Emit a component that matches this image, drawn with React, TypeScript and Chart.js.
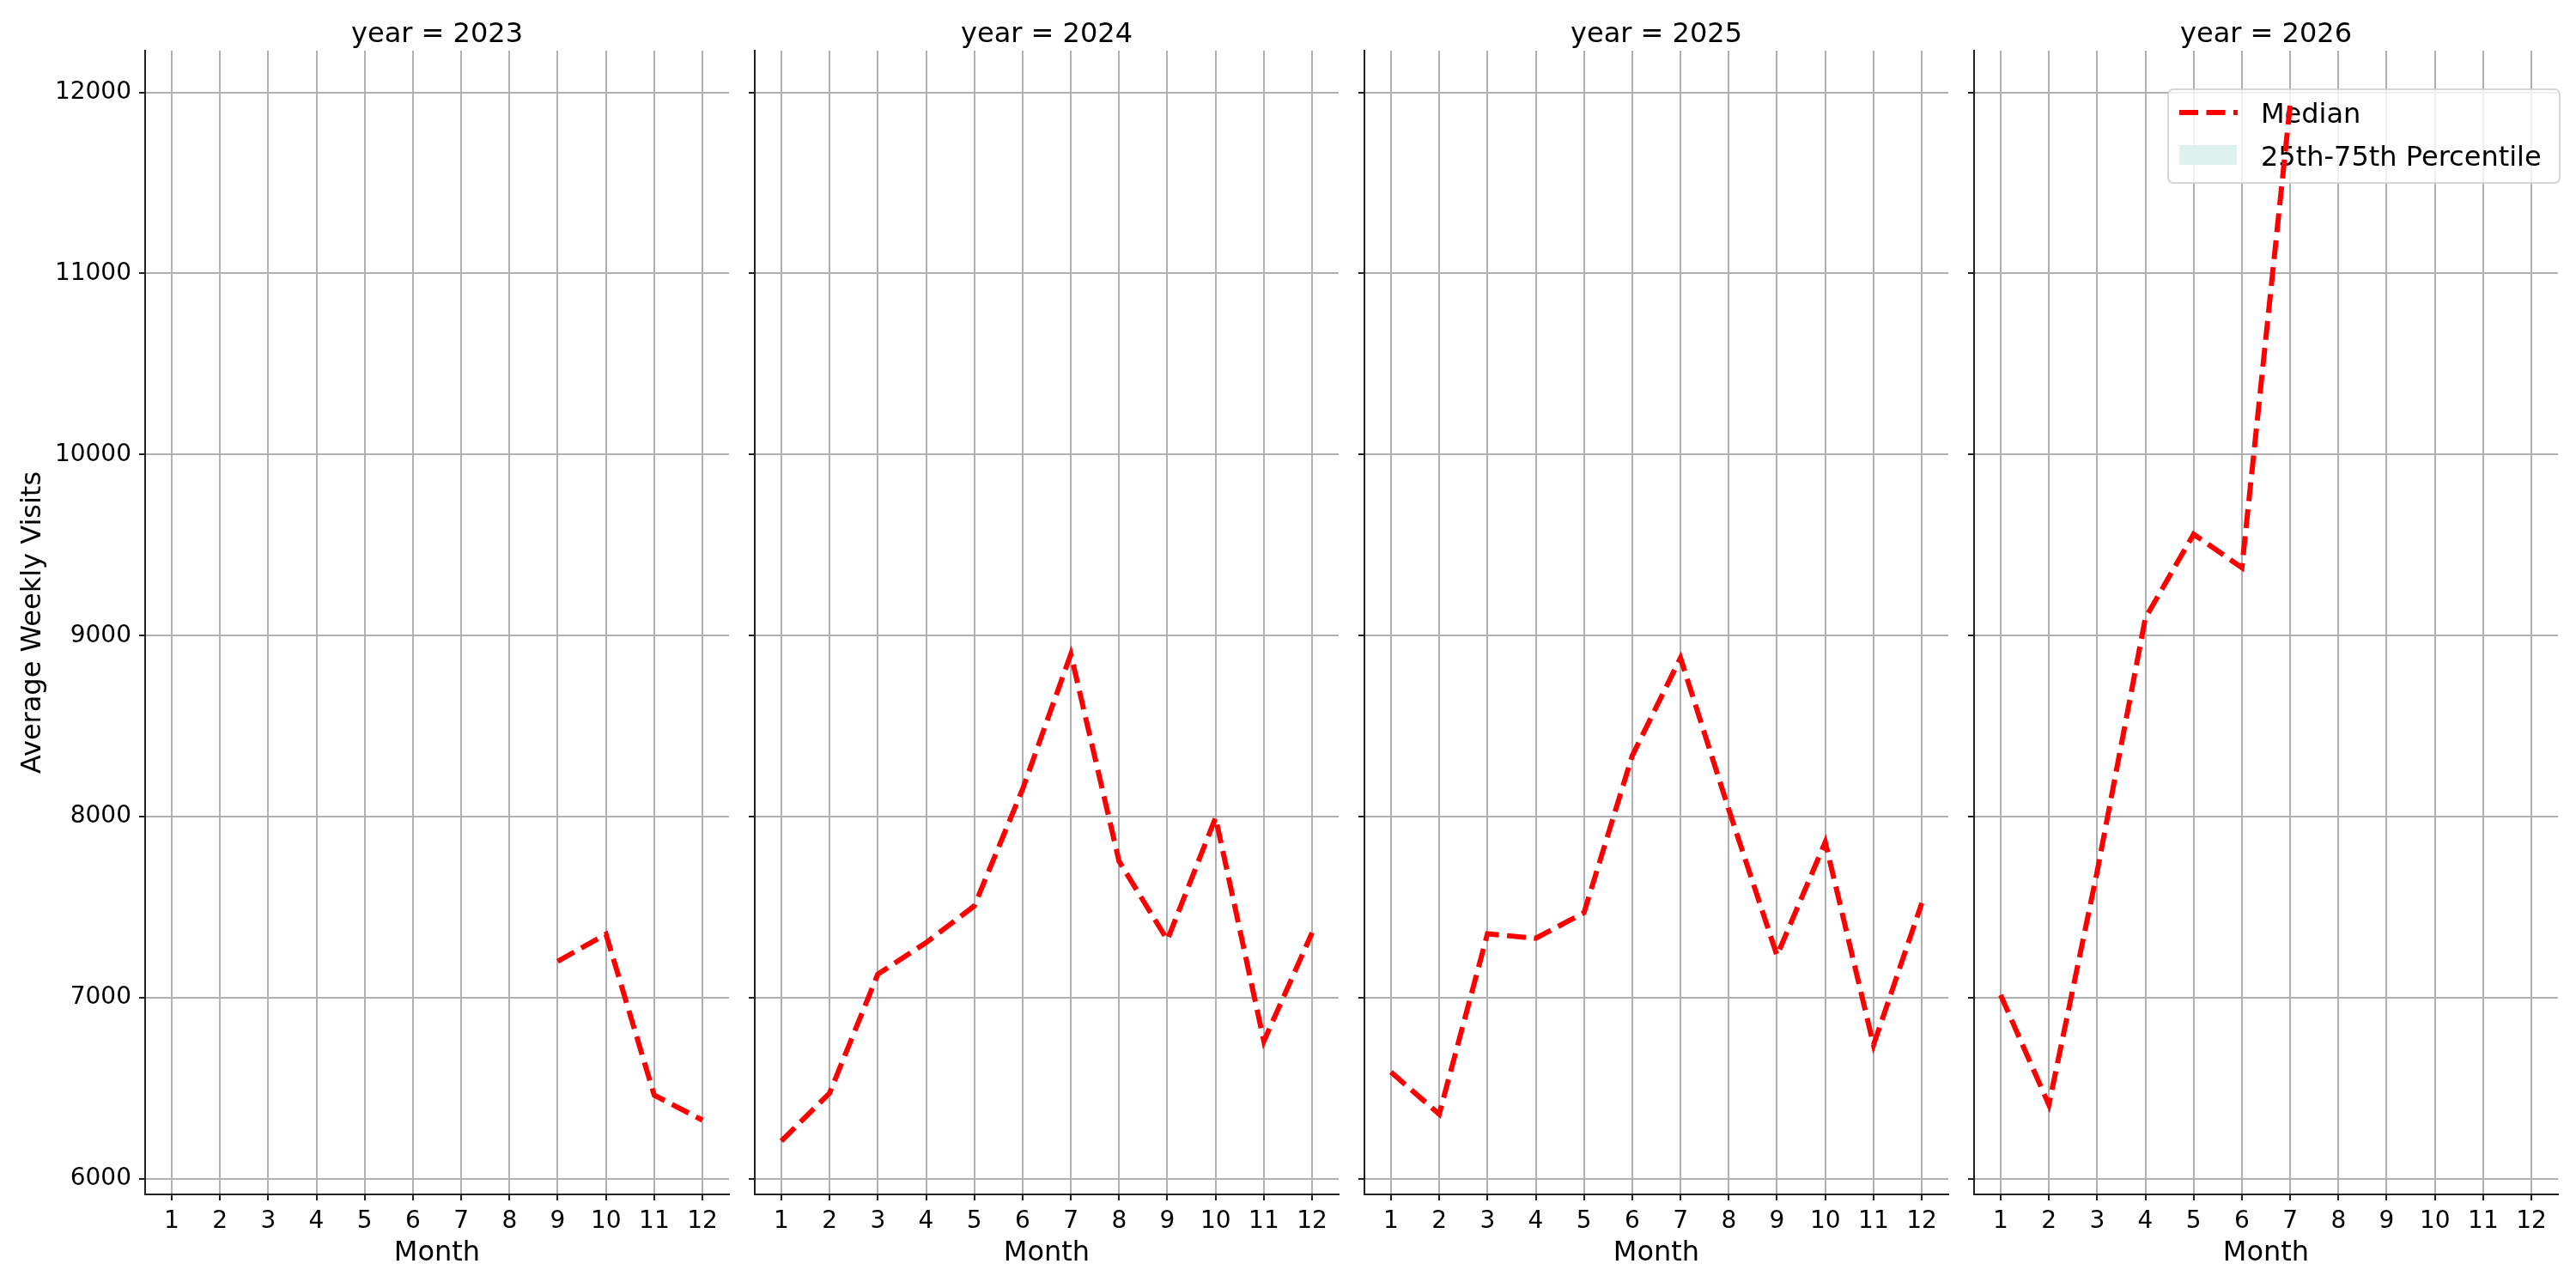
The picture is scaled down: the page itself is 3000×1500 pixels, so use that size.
import { useEffect, useRef } from "react";
import { Chart, registerables } from "chart.js";

Chart.register(...registerables);

// facet years and months
const years = [2023, 2024, 2025, 2026];
const months = [1, 2, 3, 4, 5, 6, 7, 8, 9, 10, 11, 12];

// median of average weekly visits per month (null = no data)
const median2023 = [null, null, null, null, null, null, null, null, 7202, 7352, 6463, 6325];
const median2024 = [6210, 6474, 7131, 7305, 7508, 8152, 8898, 7754, 7320, 7995, 6761, 7360];
const median2025 = [6591, 6358, 7354, 7329, 7470, 8337, 8877, 8040, 7234, 7860, 6740, 7523];
const median2026 = [7016, 6410, 7696, 9098, 9560, 9375, 11930, null, null, null, null, null];
const medians = [median2023, median2024, median2025, median2026];

const yTicks = [6000, 7000, 8000, 9000, 10000, 11000, 12000];
const yMin = 5915;
const yMax = 12230;
const xMin = 0.45;
const xMax = 12.55;

const legendLabels = ["Median", "25th-75th Percentile"];

// layout (page pixels)
const W = 3000;
const H = 1500;
const FIRST_LEFT = 169;
const PANEL_W = 680;
const PANEL_GAP = 30;
const PLOT_TOP = 59;
const PLOT_BOTTOM = 1391;
const PAD_R = 16;

const FONT = "'DejaVu Sans', sans-serif";
const RED = "#ff0000";
const LINE_W = 6;
const DASH = [22, 9.5];
const GRID = "#b0b0b0";
const AXIS = "#222222";

const decorPlugin = {
  id: "decor",
  // legend box sits under the line, as in the reference
  beforeDatasetsDraw(chart: any, _args: any, opts: any) {
    if (!opts.legend) return;
    const { ctx, chartArea } = chart;
    ctx.save();
    const right = chartArea.right + 2;
    const left = right - 456;
    const top = 104;
    const bottom = 213;
    ctx.beginPath();
    ctx.roundRect(left, top, right - left, bottom - top, 6);
    ctx.fillStyle = "rgba(255,255,255,0.8)";
    ctx.fill();
    ctx.lineWidth = 2;
    ctx.strokeStyle = "rgba(204,204,204,0.8)";
    ctx.stroke();

    // median sample
    ctx.beginPath();
    ctx.setLineDash(DASH);
    ctx.strokeStyle = RED;
    ctx.lineWidth = LINE_W;
    ctx.moveTo(left + 13, top + 27);
    ctx.lineTo(left + 81, top + 27);
    ctx.stroke();
    ctx.setLineDash([]);

    // band sample
    ctx.fillStyle = "#dff1ec";
    ctx.fillRect(left + 13, top + 65, 67, 23);

    ctx.fillStyle = "#000";
    ctx.font = `32px ${FONT}`;
    ctx.textAlign = "left";
    ctx.textBaseline = "alphabetic";
    ctx.fillText(legendLabels[0], left + 108, top + 39);
    ctx.fillText(legendLabels[1], left + 108, top + 89);
    ctx.restore();
  },
  afterDraw(chart: any, _args: any, opts: any) {
    const { ctx, chartArea } = chart;
    ctx.save();
    // facet title
    ctx.fillStyle = "#000";
    ctx.font = `32px ${FONT}`;
    ctx.textAlign = "center";
    ctx.textBaseline = "alphabetic";
    ctx.fillText(opts.title, (chartArea.left + chartArea.right) / 2, 49);
    ctx.restore();
  },
};

function Panel({ index }: { index: number }) {
  const ref = useRef<HTMLCanvasElement>(null);
  const first = index === 0;
  const padL = first ? FIRST_LEFT : 20;
  const panelLeft = FIRST_LEFT + index * (PANEL_W + PANEL_GAP);
  const canvasLeft = panelLeft - padL;
  const canvasW = padL + PANEL_W + PAD_R;

  useEffect(() => {
    if (!ref.current) return;
    const ctx = ref.current.getContext("2d");
    if (!ctx) return;

    const series = medians[index];
    const chart = new Chart(ctx, {
      type: "line",
      data: {
        datasets: [
          {
            label: legendLabels[0],
            data: months.map((m, i) => ({ x: m, y: series[i] })) as any,
            borderColor: RED,
            borderWidth: LINE_W,
            borderDash: DASH,
            pointRadius: 0,
            fill: false,
            tension: 0,
            spanGaps: false,
          },
        ],
      },
      options: {
        animation: false,
        responsive: false,
        layout: { padding: { top: PLOT_TOP, right: PAD_R, left: 0, bottom: 0 } },
        plugins: {
          legend: { display: false },
          tooltip: { enabled: false },
          decor: { title: `year = ${years[index]}`, legend: index === years.length - 1 },
        } as any,
        scales: {
          x: {
            type: "linear",
            min: xMin,
            max: xMax,
            afterBuildTicks: (s: any) => {
              s.ticks = months.map((v) => ({ value: v }));
            },
            afterFit: (s: any) => {
              s.height = H - PLOT_BOTTOM;
            },
            ticks: {
              color: "#000",
              font: { family: FONT, size: 28 },
              padding: 8,
              maxRotation: 0,
              autoSkip: false,
              callback: (v: any) => String(v),
            },
            grid: { color: GRID, lineWidth: 2, tickLength: 7, tickColor: AXIS, tickWidth: 2 },
            border: { display: true, color: AXIS, width: 2 },
            title: {
              display: true,
              text: "Month",
              color: "#000",
              font: { family: FONT, size: 32 },
              padding: { top: 0, bottom: 21 },
            },
          },
          y: {
            type: "linear",
            min: yMin,
            max: yMax,
            afterBuildTicks: (s: any) => {
              s.ticks = yTicks.map((v) => ({ value: v }));
            },
            afterFit: (s: any) => {
              s.width = padL;
            },
            ticks: {
              display: first,
              color: "#000",
              font: { family: FONT, size: 28 },
              padding: 9,
              callback: (v: any) => String(v),
            },
            grid: { color: GRID, lineWidth: 2, tickLength: 7, tickColor: AXIS, tickWidth: 2 },
            border: { display: true, color: AXIS, width: 2 },
            title: {
              display: first,
              text: "Average Weekly Visits",
              color: "#000",
              font: { family: FONT, size: 32 },
              padding: { top: 19, bottom: 0 },
            },
          },
        },
      },
      plugins: [decorPlugin],
    });

    return () => {
      chart.destroy();
    };
  }, [index]);

  return (
    <canvas
      ref={ref}
      width={canvasW}
      height={H}
      style={{ position: "absolute", left: canvasLeft, top: 0, width: canvasW, height: H }}
    />
  );
}

export default function App() {
  return (
    <div
      style={{
        position: "absolute",
        left: 0,
        top: 0,
        width: W,
        height: H,
        background: "#fff",
        overflow: "hidden",
      }}
    >
      {years.map((_, i) => (
        <Panel key={i} index={i} />
      ))}
    </div>
  );
}
